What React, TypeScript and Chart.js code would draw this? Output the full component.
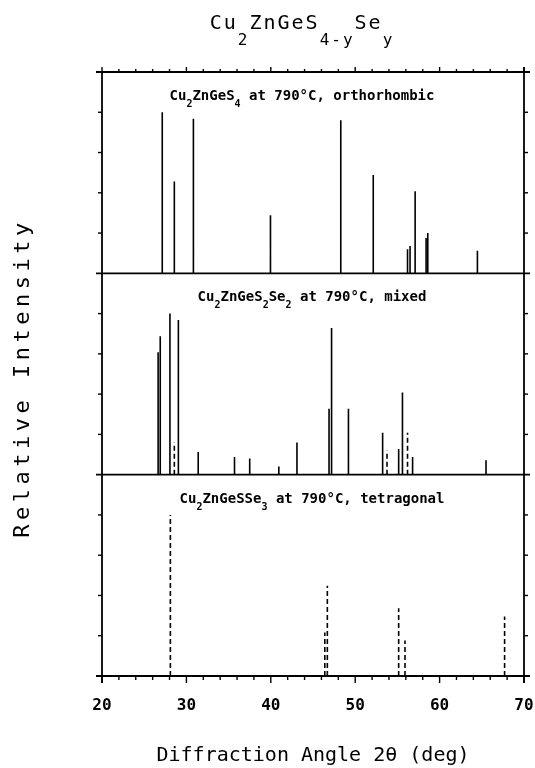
import React, { useEffect, useRef } from 'react';
import { Chart, registerables } from 'chart.js';

Chart.register(...registerables);

// ---- data ----
const X_MIN = 20;
const X_MAX = 70;
const xTickStep = 10;
const xMinorStep = 2;
const PANEL_RANGE = 125; // relative intensity units per panel
const yTickStep = 25;

// Cu2ZnGeS4 at 790 C, orthorhombic (solid sticks)
const orthoAngles = [27.14, 28.57, 30.83, 39.96, 48.29, 52.14, 56.2, 56.5, 57.1, 58.4, 58.6, 64.48];
const orthoIntensity = [100, 57, 96, 36, 95, 61, 15, 17, 51, 22, 25, 14];

// Cu2ZnGeS2Se2 at 790 C, mixed (solid sticks)
const mixedAngles = [26.65, 26.9, 28.05, 29.05, 31.4, 35.7, 37.5, 40.95, 43.1, 46.9, 47.2, 49.2, 53.25, 55.15, 55.6, 56.8, 65.5];
const mixedIntensity = [76, 86, 100, 96, 14, 11, 10, 5, 20, 41, 91, 41, 26, 16, 51, 11, 9];
// Cu2ZnGeS2Se2 mixed (dashed sticks)
const mixedDashAngles = [28.57, 53.77, 56.2];
const mixedDashIntensity = [20, 15, 26];

// Cu2ZnGeSSe3 at 790 C, tetragonal (dashed sticks)
const tetraAngles = [28.1, 46.4, 46.7, 55.15, 55.9, 67.7];
const tetraIntensity = [100, 27, 56, 42, 22, 37];

type Seg = { t: string; sub?: boolean };
const chartTitle: Seg[] = [
  { t: 'Cu' }, { t: '2', sub: true }, { t: 'ZnGeS' }, { t: '4-y', sub: true }, { t: 'Se' }, { t: 'y', sub: true },
];
const panelLabels: Seg[][] = [
  [{ t: 'Cu' }, { t: '2', sub: true }, { t: 'ZnGeS' }, { t: '4', sub: true }, { t: ' at 790°C, orthorhombic' }],
  [{ t: 'Cu' }, { t: '2', sub: true }, { t: 'ZnGeS' }, { t: '2', sub: true }, { t: 'Se' }, { t: '2', sub: true }, { t: ' at 790°C, mixed' }],
  [{ t: 'Cu' }, { t: '2', sub: true }, { t: 'ZnGeSSe' }, { t: '3', sub: true }, { t: ' at 790°C, tetragonal' }],
];
const xAxisTitle = 'Diffraction Angle 2θ (deg)';
const yAxisTitle = 'Relative Intensity';

const MONO = '"DejaVu Sans Mono", "Liberation Mono", monospace';

const sticks = (angles: number[], ints: number[], base: number) => {
  const pts: { x: number; y: number | null }[] = [];
  angles.forEach((a, i) => {
    pts.push({ x: a, y: base }, { x: a, y: base + ints[i] }, { x: a, y: null });
  });
  return pts;
};

function drawRich(
  ctx: CanvasRenderingContext2D,
  segs: Seg[],
  cx: number,
  baseline: number,
  mainFont: string,
  subFont: string,
  subDrop: number,
  spacing: number
) {
  (ctx as any).letterSpacing = spacing + 'px';
  let w = 0;
  segs.forEach((s) => {
    ctx.font = s.sub ? subFont : mainFont;
    w += ctx.measureText(s.t).width;
  });
  let x = cx - w / 2;
  ctx.textAlign = 'left';
  ctx.textBaseline = 'alphabetic';
  segs.forEach((s) => {
    ctx.font = s.sub ? subFont : mainFont;
    ctx.fillText(s.t, x, baseline + (s.sub ? subDrop : 0));
    x += ctx.measureText(s.t).width;
  });
  (ctx as any).letterSpacing = '0px';
}

const framePlugin = {
  id: 'frame',
  beforeDraw(chart: any) {
    const { ctx, width, height } = chart;
    ctx.save();
    ctx.fillStyle = '#ffffff';
    ctx.fillRect(0, 0, width, height);
    ctx.restore();
  },
  afterDraw(chart: any) {
    const { ctx } = chart;
    const { left, right, top, bottom } = chart.chartArea;
    const x = chart.scales.x;
    const y = chart.scales.y;
    ctx.save();
    ctx.strokeStyle = '#000';
    ctx.fillStyle = '#000';
    ctx.lineWidth = 1.8;
    ctx.lineCap = 'butt';
    const seg = (x1: number, y1: number, x2: number, y2: number) => {
      ctx.beginPath();
      ctx.moveTo(x1, y1);
      ctx.lineTo(x2, y2);
      ctx.stroke();
    };
    const yMax = PANEL_RANGE * 3;
    // vertical borders
    seg(left, top, left, bottom + 7);
    seg(right, top - 5, right, bottom + 7);
    // panel boundaries (horizontal lines)
    for (let v = 0; v <= yMax; v += PANEL_RANGE) {
      const py = y.getPixelForValue(v);
      seg(left - 6, py, right + 6, py);
    }
    // y ticks (outward)
    ctx.lineWidth = 1.4;
    for (let v = 0; v <= yMax; v += yTickStep) {
      if (v % PANEL_RANGE === 0) continue;
      const py = y.getPixelForValue(v);
      seg(left - 4, py, left, py);
      seg(right, py, right + 4, py);
    }
    // x ticks top (up) and bottom (down)
    for (let v = X_MIN; v <= X_MAX + 1e-9; v += xMinorStep) {
      const px = x.getPixelForValue(v);
      const major = Math.abs(v % xTickStep) < 1e-9;
      seg(px, bottom, px, bottom + (major ? 7 : 4));
      seg(px, top, px, top - (major ? 5 : 3));
    }

    // title
    drawRich(ctx, chartTitle, 302, 29, `20px ${MONO}`, `16px ${MONO}`, 16, 2);

    // panel labels
    const labelCx = [302, 312, 312];
    for (let p = 0; p < 3; p++) {
      const panelTop = y.getPixelForValue(yMax - p * PANEL_RANGE);
      drawRich(ctx, panelLabels[p], labelCx[p], panelTop + 28, `bold 14px ${MONO}`, `bold 10px ${MONO}`, 7, 0);
    }

    // y axis title
    ctx.save();
    ctx.translate(23, (top + bottom) / 2 + 4);
    ctx.rotate(-Math.PI / 2);
    (ctx as any).letterSpacing = '4.5px';
    ctx.font = `22px ${MONO}`;
    ctx.textAlign = 'center';
    ctx.textBaseline = 'middle';
    ctx.fillText(yAxisTitle, 0, 0);
    ctx.restore();

    ctx.restore();
  },
};

export default function App() {
  const ref = useRef<HTMLCanvasElement | null>(null);

  useEffect(() => {
    if (!ref.current) return;
    const base = [PANEL_RANGE * 2, PANEL_RANGE, 0];
    const common = {
      borderColor: '#000',
      borderWidth: 1.6,
      pointRadius: 0,
      spanGaps: false,
      fill: false,
      tension: 0,
      borderCapStyle: 'butt' as const,
    };
    const chart = new Chart(ref.current, {
      type: 'line',
      data: {
        datasets: [
          { ...common, label: 'Cu2ZnGeS4 orthorhombic', data: sticks(orthoAngles, orthoIntensity, base[0]) },
          { ...common, label: 'Cu2ZnGeS2Se2 mixed', data: sticks(mixedAngles, mixedIntensity, base[1]) },
          { ...common, label: 'Cu2ZnGeS2Se2 mixed (dashed)', borderDash: [5, 3], data: sticks(mixedDashAngles, mixedDashIntensity, base[1]) },
          { ...common, label: 'Cu2ZnGeSSe3 tetragonal', borderDash: [5, 3], data: sticks(tetraAngles, tetraIntensity, base[2]) },
        ],
      },
      options: {
        responsive: false,
        animation: false,
        layout: { padding: { top: 72, right: 11, left: 0, bottom: 0 } },
        plugins: {
          legend: { display: false },
          tooltip: { enabled: false },
          title: { display: false },
        },
        scales: {
          x: {
            type: 'linear',
            min: X_MIN,
            max: X_MAX,
            afterFit: (s: any) => {
              s.height = 92;
            },
            grid: { display: false, drawTicks: true, tickLength: 20 },
            border: { display: false },
            ticks: {
              stepSize: xTickStep,
              padding: 0,
              color: '#000',
              autoSkip: false,
              maxRotation: 0,
              font: { family: MONO, size: 16, weight: 'bold' },
            },
            title: {
              display: true,
              text: xAxisTitle,
              color: '#000',
              font: { family: MONO, size: 20 },
              padding: { top: 0, bottom: 0 },
            },
          },
          y: {
            type: 'linear',
            min: 0,
            max: PANEL_RANGE * 3,
            afterFit: (s: any) => {
              s.width = 102;
            },
            grid: { display: false, drawTicks: false },
            border: { display: false },
            ticks: { display: false, stepSize: yTickStep },
          },
        },
      },
      plugins: [framePlugin],
    });
    return () => chart.destroy();
  }, []);

  return (
    <div style={{ position: 'fixed', left: 0, top: 0, width: 535, height: 768, background: '#fff' }}>
      <canvas ref={ref} width={535} height={768} />
    </div>
  );
}
